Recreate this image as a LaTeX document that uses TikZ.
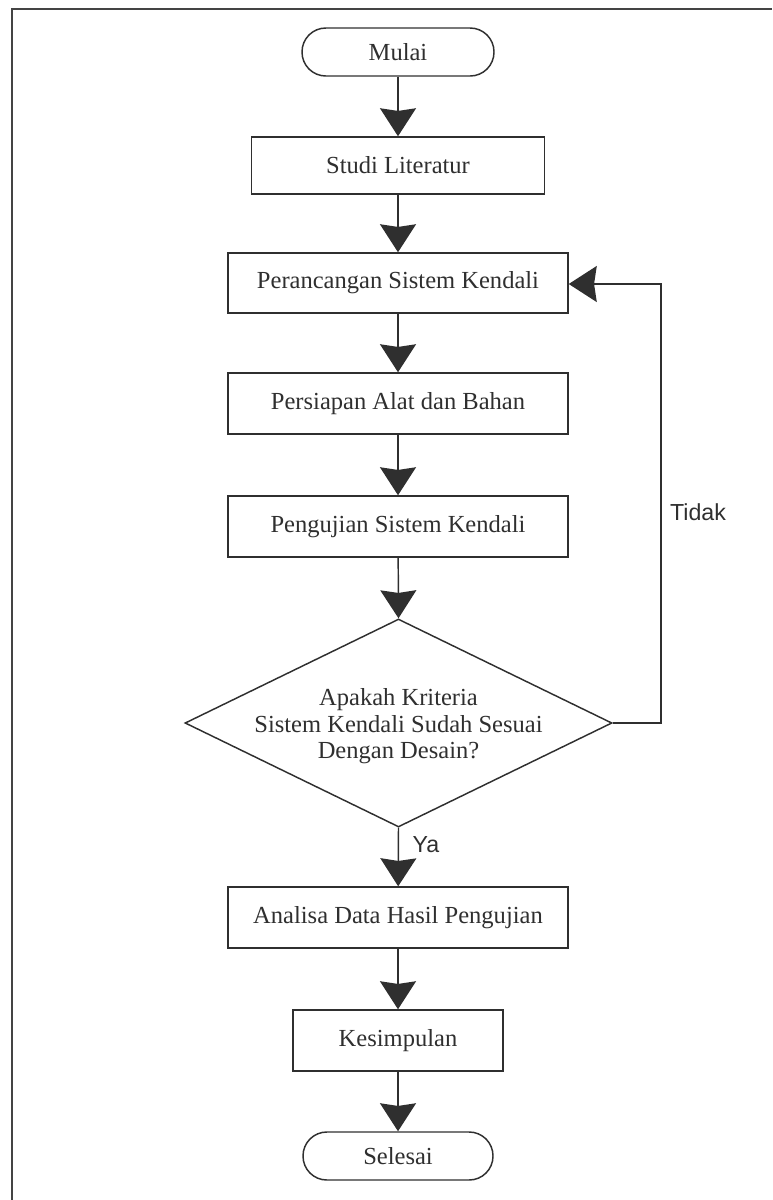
\documentclass[tikz,border=0pt]{standalone}
\usepackage{fontspec}
\setmainfont{Liberation Serif}
\setsansfont{Liberation Sans}
\usetikzlibrary{arrows.meta,shapes.geometric}
\definecolor{ink}{HTML}{2F2F2F}
\definecolor{framecol}{HTML}{444444}
\begin{document}
\begin{tikzpicture}[x=0.75pt,y=-0.75pt,
  box/.style={draw=ink, line width=1.1pt, text=ink, inner sep=0pt, font=\fontsize{18.4}{20}\selectfont},
  term/.style={box, rounded corners=17.9pt},
  flow/.style={draw=ink, line width=1.1pt, -{Stealth[length=21pt,width=27pt,inset=2pt,fill=ink]}},
  lbl/.style={text=ink, font=\sffamily\fontsize{17.4}{19}\selectfont, inner sep=0pt}]
\useasboundingbox (0,0) rectangle (772,1200);
\draw[framecol, line width=1.5pt] (11.5,1200) -- (11.5,9) -- (772,9);

\node[term, minimum width=144pt, minimum height=36pt] (mulai) at (398,52) {Mulai};
\node[box, minimum width=219.75pt, minimum height=42.75pt] (studi) at (398,165.5) {Studi Literatur};
\node[box, minimum width=255pt, minimum height=45pt] (rancang) at (398,283) {Perancangan Sistem Kendali};
\node[box, minimum width=255pt, minimum height=45.75pt] (siap) at (398,403.5) {Persiapan Alat dan Bahan};
\node[box, minimum width=255pt, minimum height=45.75pt] (uji) at (398,526.5) {Pengujian Sistem Kendali};
\node[diamond, draw=ink, line width=1.1pt, inner sep=0pt, minimum width=320.25pt, minimum height=156pt] (dec) at (398.5,723) {};
\node[text=ink, align=center, inner sep=0pt, font=\fontsize{18.4}{20}\selectfont] (dectext) at ([yshift=-2.5]dec.center) {Apakah Kriteria\\Sistem Kendali Sudah Sesuai\\Dengan Desain?};
\node[box, minimum width=255pt, minimum height=45.75pt] (analisa) at (398,917.5) {Analisa Data Hasil Pengujian};
\node[box, minimum width=157.5pt, minimum height=45.75pt] (simpul) at (398,1040.5) {Kesimpulan};
\node[term, minimum width=142.5pt, minimum height=36pt] (selesai) at (398,1156) {Selesai};

\coordinate (c1) at (661,723);
\coordinate (c2) at (661,284);

\draw[flow] (mulai) -- (studi);
\draw[flow] (studi) -- (rancang);
\draw[flow] (rancang) -- (siap);
\draw[flow] (siap) -- (uji);
\draw[flow] (uji) -- (dec.north);
\draw[flow] (dec.south) -- (analisa);
\draw[flow] (analisa) -- (simpul);
\draw[flow] (simpul) -- (selesai);
\draw[flow] (dec.east) -- (c1) -- (c2) -- (rancang.east |- c2);

\node[lbl] (tidak) at (698,512) {Tidak};
\node[lbl] (ya) at (426,845) {Ya};
\end{tikzpicture}
\end{document}
